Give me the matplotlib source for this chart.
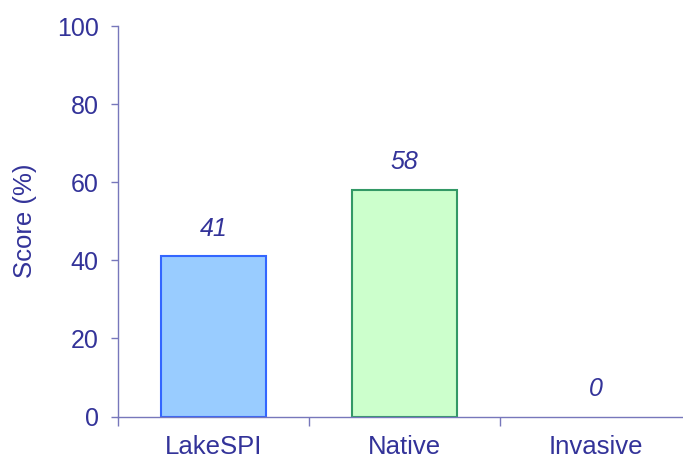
import numpy as np
import matplotlib.pyplot as plt

plt.rcParams['font.family'] = ['Liberation Sans', 'DejaVu Sans']

categories = ["LakeSPI", "Native", "Invasive"]
scores = [41, 58, 0]
fills = ["#99ccff", "#ccffcc", "#ffffff"]
edges = ["#3366ff", "#339966", "#333399"]

txt = "#333399"
axcol = "#7777bb"

fig = plt.figure(figsize=(6.83, 4.63), dpi=100)
ax = fig.add_axes([118/683, 46.5/463, 1 - 118/683, (416.5 - 26)/463])

x = np.arange(len(categories))
for i in range(len(categories)):
    if scores[i] > 0:
        ax.bar(x[i], scores[i], width=0.55, color=fills[i], edgecolor=edges[i], linewidth=1.5, zorder=2)
    ax.annotate(str(scores[i]), (x[i], scores[i]), xytext=(0, 20), textcoords="offset points",
                ha="center", va="center", fontsize=18, style="italic", color=txt)

ax.set_xlim(-0.5, -0.5 + 565/191)
ax.set_ylim(0, 100)
ax.set_yticks([0, 20, 40, 60, 80, 100])
ax.set_xticks([-0.5, 0.5, 1.5])
ax.set_xticklabels([])
ax.set_xticks(x, minor=True)
ax.set_xticklabels(categories, minor=True)
ax.tick_params(axis="x", which="major", direction="out", length=6.5, width=1, color=axcol)
ax.tick_params(axis="x", which="minor", length=0, pad=13.5, labelsize=18.5, labelcolor=txt)
ax.tick_params(axis="y", direction="out", length=5, width=1, color=axcol, pad=9, labelsize=18, labelcolor=txt)

for s in ["top", "right"]:
    ax.spines[s].set_visible(False)
for s in ["left", "bottom"]:
    ax.spines[s].set_color(axcol)
    ax.spines[s].set_linewidth(1)

ax.set_ylabel("Score (%)", fontsize=18.5, color=txt, labelpad=14)

fig.savefig("out.png", dpi=100)
